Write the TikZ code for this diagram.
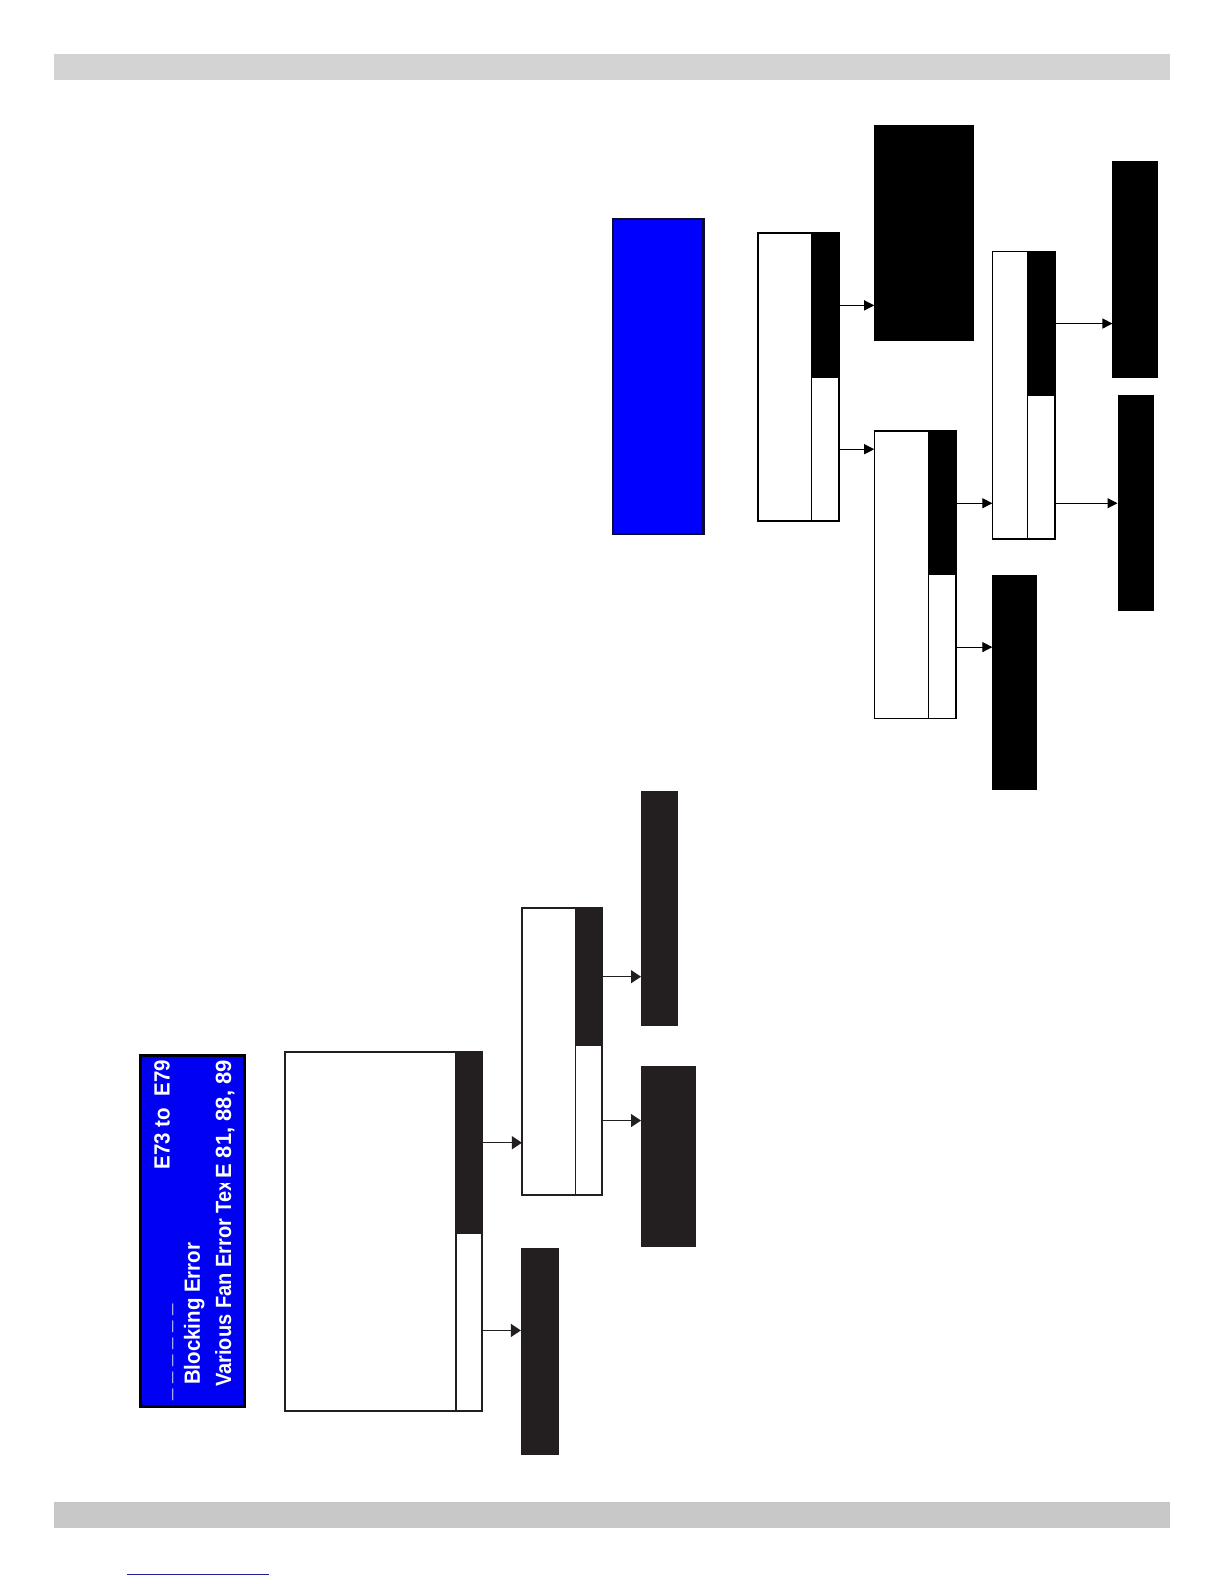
\documentclass[tikz,border=0pt]{standalone}
\usepackage{fontspec}
\setmainfont{Liberation Sans}
\newfontfamily\lblfont[FakeStretch=0.93]{Liberation Sans}
\newfontfamily\lblnarrow[FakeStretch=0.91]{Liberation Sans}
\usetikzlibrary{arrows.meta,fit}
\definecolor{ink}{HTML}{231F20}
\definecolor{barA}{HTML}{D3D3D3}
\definecolor{barB}{HTML}{C8C8C8}
\definecolor{lowblue}{HTML}{0000F2}
\definecolor{upblue}{HTML}{0000FF}
\definecolor{upedge}{HTML}{0A0A3C}
\definecolor{linkblue}{HTML}{1F1F99}
\begin{document}
\begin{tikzpicture}[x=1.0095pt,y=-1.0095pt,
  region/.style={inner sep=0pt, outer sep=0pt},
  lbox/.style={region, draw=ink, line width=2pt, fill=white},
  lfill/.style={region, fill=ink},
  ubox/.style={region, draw=black, line width=1.4pt, fill=white},
  ufill/.style={region, fill=black},
  larr/.style={draw=ink, line width=1.3pt, -{Triangle[length=10pt,width=13pt]}},
  uarr/.style={draw=black, line width=1.1pt, -{Triangle[length=10pt,width=10pt]}},
  txt/.style={text=white, font=\lblfont\bfseries\fontsize{22}{26}\selectfont, inner sep=0pt, rotate=90},
  narrowtxt/.style={txt, font=\lblnarrow\bfseries\fontsize{22}{26}\selectfont},
  numtxt/.style={txt, font=\bfseries\fontsize{22}{26}\selectfont},
]
\useasboundingbox (0,0) rectangle (1212.5,1569.1);
\fill[white] (0,0) rectangle (1212.5,1569.1);

% page bars
\node[region, fill=barA, fit={(53,53) (1159,79)}] (topbar) {};
\node[region, fill=barB, fit={(53,1488) (1159,1514)}] (botbar) {};
\coordinate (linkL) at (126,1560);
\coordinate (linkR) at (266,1560);
\draw[linkblue, line width=1.3pt] (linkL) -- (linkR);

% ---------- lower diagram ----------
\node[region, draw=black, line width=3pt, fill=lowblue, fit={(139,1046) (242,1393)}] (lblue) {};
\node[txt, anchor=base west] (l1a) at (169,1388) {\_ \_ \_ \_ \_ \_};
\node[txt, anchor=base east] (l1b) at (168,1050) {E73 to \ E79};
\node[txt, anchor=base west] (l2) at (198,1372) {Blocking Error};
\begin{scope}
  \clip (195,1172) rectangle (240,1390);
  \node[narrowtxt, anchor=base west] (l3a) at (229,1374) {Various Fan Error Text};
\end{scope}
\node[numtxt, anchor=base east] (l3b) at (229,1050) {E 81, 88, 89};

\node[lbox, fit={(282,1042) (477,1398)}] (A) {};
\node[lfill, fit={(452,1042) (477,1222)}] (Ad) {};
\node[region, fit={(452,1222) (477,1398)}] (Aw) {};
\draw[ink, line width=2pt] (Ad.north west) -- (Aw.south west);

\node[lbox, fit={(517,899) (596,1184)}] (B) {};
\node[lfill, fit={(570,899) (596,1036)}] (Bd) {};
\node[region, fit={(570,1036) (596,1184)}] (Bw) {};
\draw[ink, line width=1.6pt] (Bd.north west) -- (Bw.south west);

\node[lfill, fit={(516,1236) (554,1441)}] (C) {};
\node[lfill, fit={(635,784) (672,1016)}] (D) {};
\node[lfill, fit={(635,1056) (689,1235)}] (E) {};

\draw[larr] (Ad.east) -- (Ad.east -| B.west);
\draw[larr] ([yshift=-8pt]Aw.east) coordinate (a2s) -- (a2s -| C.west);
\draw[larr] (Bd.east) -- (Bd.east -| D.west);
\draw[larr] (Bw.east) -- (Bw.east -| E.west);

% ---------- upper diagram ----------
\node[region, draw=upedge, line width=2.5pt, fill=upblue, fit={(607,217) (697,529)}] (ublue) {};

\node[ubox, fit={(751,231) (831,516)}] (F) {};
\node[ufill, fit={(804,231) (831,374)}] (Fd) {};
\node[region, fit={(804,374) (831,516)}] (Fw) {};
\draw[black, line width=1.4pt] (Fd.north west) -- (Fw.south west);

\node[ufill, fit={(866,124) (965,338)}] (G) {};

\node[ubox, fit={(866,427) (947,712)}] (H) {};
\node[ufill, fit={(920,427) (947,570)}] (Hd) {};
\node[region, fit={(920,570) (947,712)}] (Hw) {};
\draw[black, line width=1.4pt] (Hd.north west) -- (Hw.south west);

\node[ubox, fit={(983,249) (1045,534)}] (I) {};
\node[ufill, fit={(1018,249) (1045,392)}] (Id) {};
\node[region, fit={(1018,392) (1045,534)}] (Iw) {};
\draw[black, line width=1.4pt] (Id.north west) -- (Iw.south west);

\node[ufill, fit={(983,570) (1027,783)}] (J) {};
\node[ufill, fit={(1102,159) (1147,374)}] (K) {};
\node[ufill, fit={(1107,391) (1143,605)}] (L) {};

\draw[uarr] (Fd.east) -- (Fd.east -| G.west);
\draw[uarr] (Fw.east) -- (Fw.east -| H.west);
\draw[uarr] (Hd.east) -- (Hd.east -| I.west);
\draw[uarr] (Hw.east) -- (Hw.east -| J.west);
\draw[uarr] (Id.east) -- (Id.east -| K.west);
\draw[uarr] (Iw.east |- Hd.east) -- (Iw.east |- Hd.east -| L.west);
\end{tikzpicture}
\end{document}
